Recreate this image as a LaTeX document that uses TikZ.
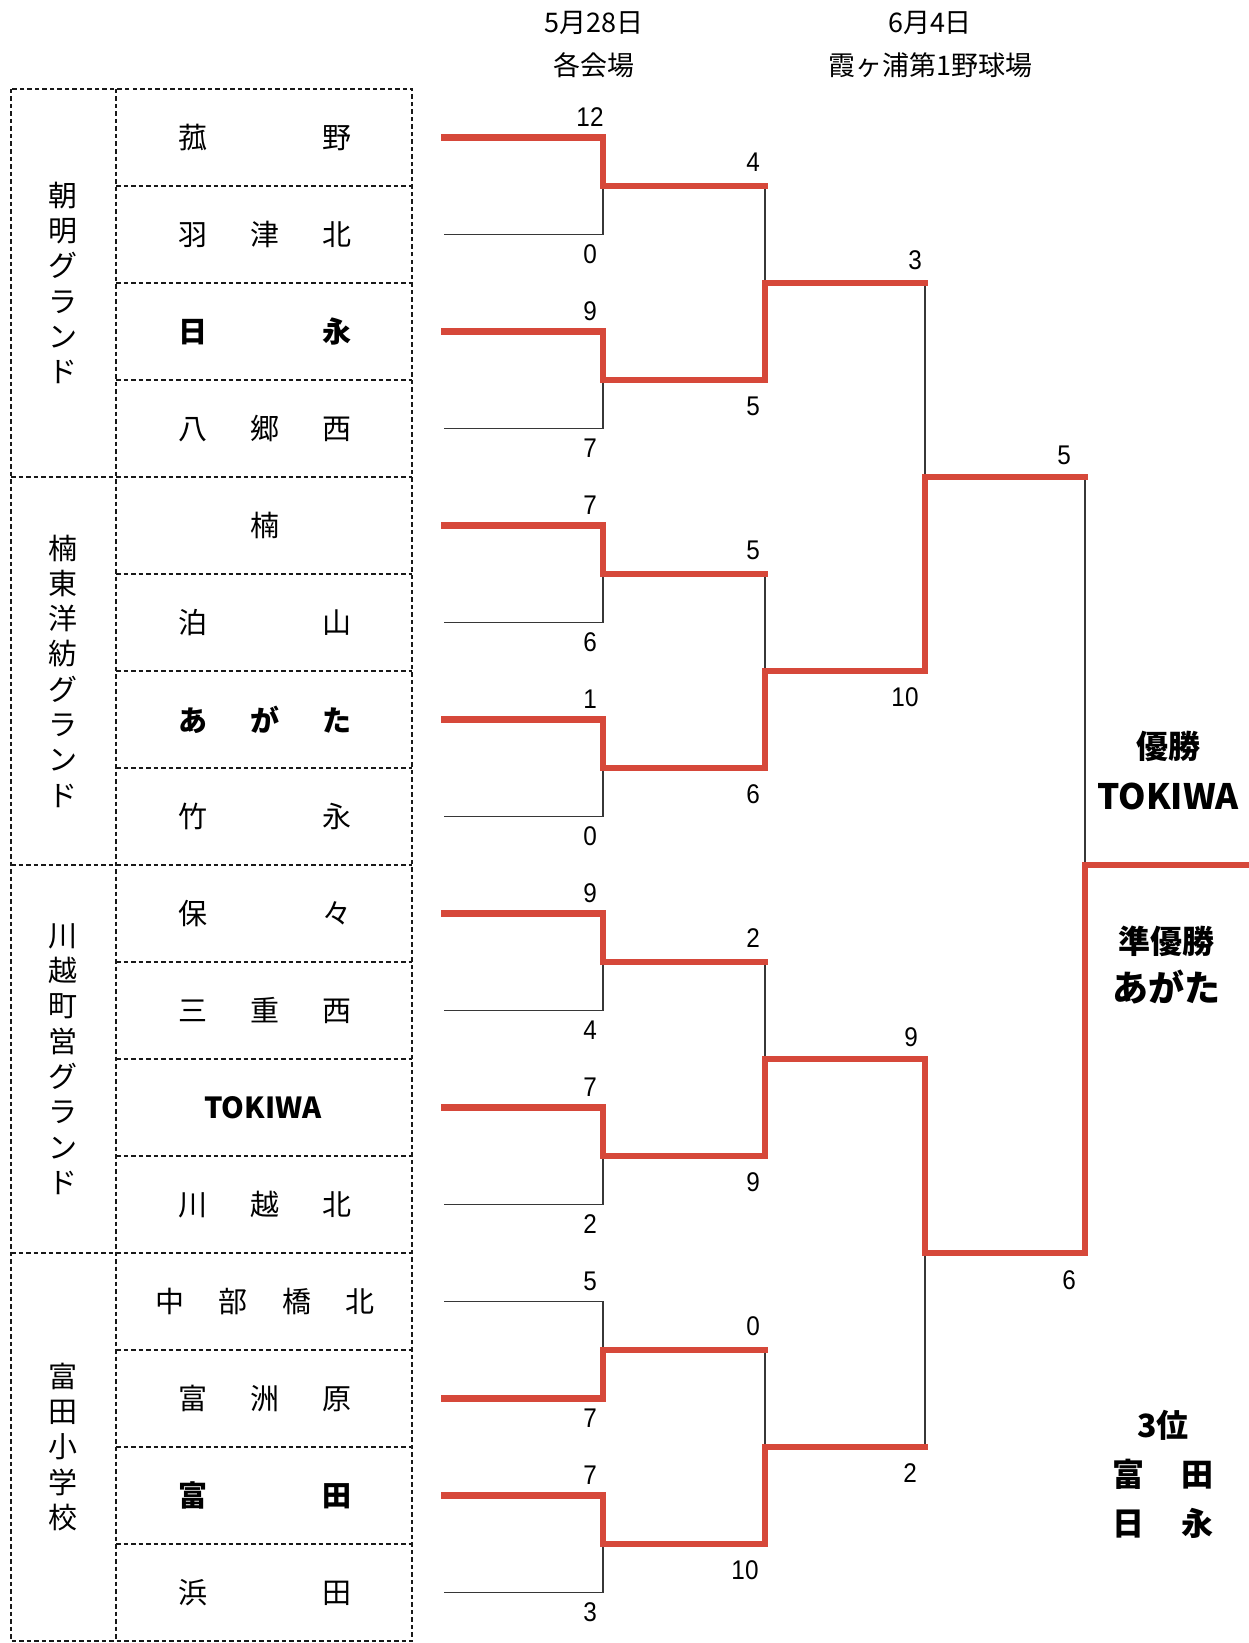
\documentclass[tikz,border=0pt]{standalone}
\usepackage{fontspec}
\newfontfamily\jp{Noto Sans CJK JP}
\newfontfamily\numf[FakeStretch=0.9]{Liberation Sans}
\definecolor{winred}{RGB}{214,72,58}
\definecolor{loseblk}{RGB}{55,55,55}
\tikzset{
  gridline/.style={line width=2.3pt, dash pattern=on 4.5pt off 3pt, black!90},
  winline/.style={line width=6.5pt, winred, line join=miter, line cap=rect},
  loseline/.style={line width=1.5pt, loseblk},
  team/.style={font=\jp\fontsize{29}{29}\selectfont, inner sep=0pt},
  teamb/.style={font=\jp\bfseries\fontsize{29}{29}\selectfont, inner sep=0pt},
  grp/.style={font=\jp\fontsize{29}{35.3}\selectfont, align=center, inner sep=0pt},
  score/.style={font=\numf\fontsize{27}{27}\selectfont, inner sep=0pt},
  head/.style={font=\jp\fontsize{27}{27}\selectfont, inner sep=0pt},
  award/.style={font=\jp\bfseries\fontsize{32}{32}\selectfont, inner sep=0pt},
}
\begin{document}
\begin{tikzpicture}[x=1pt,y=-1pt]
\useasboundingbox[fill=white] (0,0) rectangle (1248,1643);

% ---------- table ----------
\draw[gridline] (11,89) rectangle (412,1641);
\draw[gridline] (116,89) -- (116,1641);
\foreach \k in {4,8,12}{\draw[gridline] (11,{89+97*\k}) -- (412,{89+97*\k});}
\foreach \k in {1,2,3,5,6,7,9,10,11,13,14,15}{\draw[gridline] (116,{89+97*\k}) -- (412,{89+97*\k});}

% group labels
\node[grp] (g1) at (63,283) {朝\\明\\グ\\ラ\\ン\\ド};
\node[grp] (g2) at (63,671) {楠\\東\\洋\\紡\\グ\\ラ\\ン\\ド};
\node[grp] (g3) at (63,1059) {川\\越\\町\\営\\グ\\ラ\\ン\\ド};
\node[grp] (g4) at (63,1447) {富\\田\\小\\学\\校};

% team names
\node[team]  (t1)  at (265,137.5)  {\makebox[173pt]{菰\hfill 野}};
\node[team]  (t2)  at (265,234.5)  {\makebox[173pt]{羽\hfill 津\hfill 北}};
\node[teamb] (t3)  at (265,331.5)  {\makebox[173pt]{日\hfill 永}};
\node[team]  (t4)  at (265,428.5)  {\makebox[173pt]{八\hfill 郷\hfill 西}};
\node[team]  (t5)  at (265,525.5)  {楠};
\node[team]  (t6)  at (265,622.5)  {\makebox[173pt]{泊\hfill 山}};
\node[teamb] (t7)  at (265,719.5)  {\makebox[173pt]{あ\hfill が\hfill た}};
\node[team]  (t8)  at (265,816.5)  {\makebox[173pt]{竹\hfill 永}};
\node[team]  (t9)  at (265,913.5)  {\makebox[173pt]{保\hfill 々}};
\node[team]  (t10) at (265,1010.5) {\makebox[173pt]{三\hfill 重\hfill 西}};
\node[teamb, font=\jp\bfseries\fontsize{29}{29}\selectfont] (t11) at (263,1107.5) {TOKIWA};
\node[team]  (t12) at (265,1204.5) {\makebox[173pt]{川\hfill 越\hfill 北}};
\node[team]  (t13) at (265,1301.5) {\makebox[219pt]{中\hfill 部\hfill 橋\hfill 北}};
\node[team]  (t14) at (265,1398.5) {\makebox[173pt]{富\hfill 洲\hfill 原}};
\node[teamb] (t15) at (265,1495.5) {\makebox[173pt]{富\hfill 田}};
\node[team]  (t16) at (265,1592.5) {\makebox[173pt]{浜\hfill 田}};

% ---------- bracket coordinates ----------
\foreach \i in {1,...,16}{
  \pgfmathsetmacro\yy{89+97*(\i-0.5)}
  \coordinate (a\i) at (444,\yy);
  \coordinate (b\i) at (603,\yy);
}
\foreach \m in {1,...,8}{
  \pgfmathsetmacro\yy{89+97*(2*\m-1)}
  \coordinate (p\m) at (603,\yy);
  \coordinate (q\m) at (765,\yy);
}
\foreach \m in {1,...,4}{
  \pgfmathsetmacro\yy{89+97*(4*\m-2)}
  \coordinate (r\m) at (765,\yy);
  \coordinate (s\m) at (925,\yy);
}
\foreach \m in {1,2}{
  \pgfmathsetmacro\yy{89+97*(8*\m-4)}
  \coordinate (u\m) at (925,\yy);
  \coordinate (v\m) at (1085,\yy);
}
\coordinate (fm) at (1085,865);
\coordinate (fe) at (1260,865);

% ---------- losing lines ----------
\draw[loseline] (a2) -- (b2) -- (p1);
\draw[loseline] (a4) -- (b4) -- (p2);
\draw[loseline] (a6) -- (b6) -- (p3);
\draw[loseline] (a8) -- (b8) -- (p4);
\draw[loseline] (a10) -- (b10) -- (p5);
\draw[loseline] (a12) -- (b12) -- (p6);
\draw[loseline] (a13) -- (b13) -- (p7);
\draw[loseline] (a16) -- (b16) -- (p8);
\draw[loseline] (q1) -- (r1);
\draw[loseline] (q3) -- (r2);
\draw[loseline] (q5) -- (r3);
\draw[loseline] (q7) -- (r4);
\draw[loseline] (s1) -- (u1);
\draw[loseline] (s4) -- (u2);
\draw[loseline] (v1) -- (fm);

% ---------- winning paths ----------
\draw[winline] (a1) -- (b1) -- (p1) -- (q1);
\draw[winline] (a3) -- (b3) -- (p2) -- (q2) -- (r1) -- (s1);
\draw[winline] (a5) -- (b5) -- (p3) -- (q3);
\draw[winline] (a7) -- (b7) -- (p4) -- (q4) -- (r2) -- (s2) -- (u1) -- (v1);
\draw[winline] (a9) -- (b9) -- (p5) -- (q5);
\draw[winline] (a11) -- (b11) -- (p6) -- (q6) -- (r3) -- (s3) -- (u2) -- (v2) -- (fm) -- (fe);
\draw[winline] (a14) -- (b14) -- (p7) -- (q7);
\draw[winline] (a15) -- (b15) -- (p8) -- (q8) -- (r4) -- (s4);

% ---------- scores ----------
% round 1
\node[score] (c1)  at (590,117)   {12};
\node[score] (c2)  at (590,254)   {0};
\node[score] (c3)  at (590,311)   {9};
\node[score] (c4)  at (590,448)   {7};
\node[score] (c5)  at (590,505)   {7};
\node[score] (c6)  at (590,642)   {6};
\node[score] (c7)  at (590,699)   {1};
\node[score] (c8)  at (590,836)   {0};
\node[score] (c9)  at (590,893)   {9};
\node[score] (c10) at (590,1030)  {4};
\node[score] (c11) at (590,1087)  {7};
\node[score] (c12) at (590,1224)  {2};
\node[score] (c13) at (590,1281)  {5};
\node[score] (c14) at (590,1418)  {7};
\node[score] (c15) at (590,1475)  {7};
\node[score] (c16) at (590,1612)  {3};
% round 2
\node[score] (d1) at (753,162)  {4};
\node[score] (d2) at (753,406)  {5};
\node[score] (d3) at (753,550)  {5};
\node[score] (d4) at (753,794)  {6};
\node[score] (d5) at (753,938)  {2};
\node[score] (d6) at (753,1182) {9};
\node[score] (d7) at (753,1326) {0};
\node[score] (d8) at (745,1570) {10};
% round 3
\node[score] (e1) at (915,260)  {3};
\node[score] (e2) at (905,697)  {10};
\node[score] (e3) at (911,1037) {9};
\node[score] (e4) at (910,1473) {2};
% final
\node[score] (f1) at (1064,455)  {5};
\node[score] (f2) at (1069,1280) {6};

% ---------- headers ----------
\node[head] (h1) at (594,23) {5月28日};
\node[head] (h2) at (594,65) {各会場};
\node[head] (h3) at (930,23) {6月4日};
\node[head] (h4) at (930,65) {霞ヶ浦第1野球場};

% ---------- results ----------
\node[award] (w1) at (1168,746) {優勝};
\node[award, font=\jp\bfseries\fontsize{35}{35}\selectfont] (w2) at (1168,796) {TOKIWA};
\node[award] (w3) at (1166,941) {準優勝};
\node[award, font=\jp\bfseries\fontsize{36}{36}\selectfont] (w4) at (1166,987) {あがた};
\node[award] (w5) at (1163,1425) {3位};
\node[award] (w6) at (1163,1474) {\makebox[102pt]{富\hfill 田}};
\node[award] (w7) at (1163,1523) {\makebox[102pt]{日\hfill 永}};
\end{tikzpicture}
\end{document}
